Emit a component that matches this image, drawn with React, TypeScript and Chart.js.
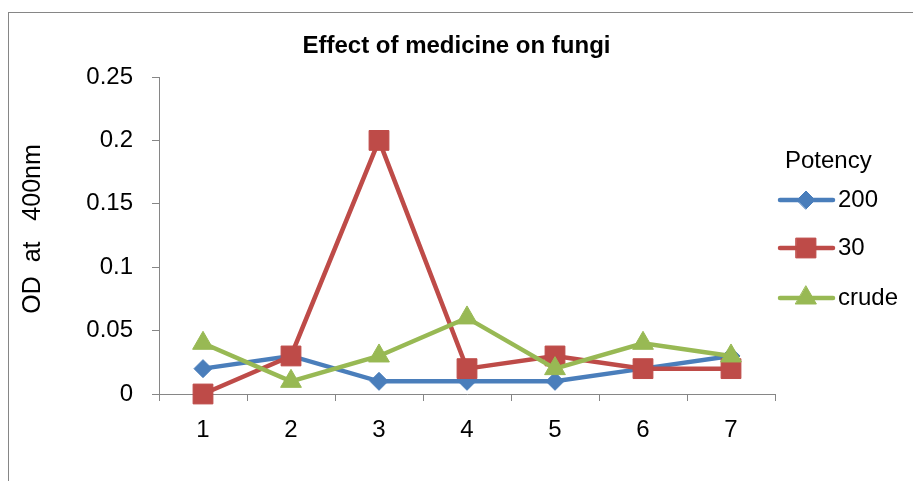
import React, { useEffect, useRef } from 'react';
import { Chart, registerables } from 'chart.js';
import { drawPoint } from 'chart.js/helpers';

Chart.register(...registerables);

const categories = ['1', '2', '3', '4', '5', '6', '7'];
const series200 = [0.02, 0.03, 0.01, 0.01, 0.01, 0.02, 0.03];
const series30 = [0, 0.03, 0.2, 0.02, 0.03, 0.02, 0.02];
const seriesCrude = [0.04, 0.01, 0.03, 0.06, 0.02, 0.04, 0.03];
const seriesNames = ['200', '30', 'crude'];
const yMin = 0;
const yMax = 0.25;
const yStep = 0.05;
const chartTitle = 'Effect of medicine on fungi';
const yAxisTitle = 'OD  at   400nm';
const legendTitle = 'Potency';

const FONT = "'Liberation Sans', Arial, sans-serif";
const BLUE = '#4A7EBB';
const RED = '#BE4B48';
const GREEN = '#98B954';
const AXIS = '#868686';

const overlayPlugin = {
  id: 'overlayText',
  afterDraw(chart: any) {
    const ctx = chart.ctx;
    const right = chart.chartArea.right;
    ctx.save();
    // chart title centred on the whole chart
    ctx.fillStyle = '#000';
    ctx.font = `bold 24px ${FONT}`;
    ctx.textBaseline = 'middle';
    ctx.textAlign = 'center';
    ctx.fillText(chartTitle, chart.width / 2, 46);

    // y-axis title
    ctx.save();
    ctx.translate(33, 229);
    ctx.rotate(-Math.PI / 2);
    ctx.font = `25px ${FONT}`;
    ctx.fillText(yAxisTitle, 0, 0);
    ctx.restore();

    // legend
    ctx.font = `24px ${FONT}`;
    ctx.textAlign = 'left';
    ctx.fillText(legendTitle, right + 10, 161);
    const rowYs = [200, 248, 298];
    chart.data.datasets.forEach((ds: any, i: number) => {
      const y = rowYs[i];
      ctx.strokeStyle = ds.borderColor;
      ctx.lineWidth = ds.borderWidth;
      ctx.lineCap = 'round';
      ctx.beginPath();
      ctx.moveTo(right + 5, y);
      ctx.lineTo(right + 58, y);
      ctx.stroke();
      ctx.fillStyle = ds.pointBackgroundColor;
      ctx.strokeStyle = ds.pointBorderColor;
      ctx.lineWidth = 1;
      drawPoint(ctx, { pointStyle: ds.pointStyle, radius: ds.pointRadius, rotation: 0, borderWidth: 1 }, right + 31, y);
      ctx.fillStyle = '#000';
      ctx.font = `24px ${FONT}`;
      ctx.fillText(ds.label, right + 63, y);
    });
    ctx.restore();
  },
};

function App() {
  const ref = useRef<HTMLCanvasElement | null>(null);
  useEffect(() => {
    if (!ref.current) return;
    const mk = (label: string, data: number[], color: string, style: string, radius: number, order: number) => ({
      label,
      data,
      borderColor: color,
      backgroundColor: color,
      pointBackgroundColor: color,
      pointBorderColor: color,
      pointBorderWidth: 1,
      borderWidth: 4.5,
      pointStyle: style,
      pointRadius: radius,
      pointHoverRadius: radius,
      tension: 0,
      clip: false,
      order,
    });
    const chart = new Chart(ref.current, {
      type: 'line',
      data: {
        labels: categories,
        datasets: [
          mk(seriesNames[0], series200, BLUE, 'rectRot', 9, 2),
          mk(seriesNames[1], series30, RED, 'rect', 14, 1),
          mk(seriesNames[2], seriesCrude, GREEN, 'triangle', 12, 0),
        ],
      },
      options: {
        animation: false,
        responsive: false,
        events: [],
        layout: { padding: { left: 0, right: 138, top: 77, bottom: 0 } },
        plugins: {
          legend: { display: false },
          tooltip: { enabled: false },
          title: { display: false },
        },
        scales: {
          x: {
            type: 'category',
            offset: true,
            afterFit: (s: any) => { s.height = 87; },
            grid: { display: true, drawOnChartArea: false, drawTicks: true, tickLength: 7, color: AXIS, offset: true },
            border: { display: true, color: AXIS, width: 1 },
            ticks: { color: '#000', font: { family: FONT, size: 24 }, padding: 15, maxRotation: 0 },
          },
          y: {
            min: yMin,
            max: yMax,
            afterFit: (s: any) => { s.width = 159; },
            grid: { display: true, drawOnChartArea: false, drawTicks: true, tickLength: 7, color: AXIS },
            border: { display: true, color: AXIS, width: 1 },
            ticks: {
              stepSize: yStep,
              color: '#000',
              font: { family: FONT, size: 24 },
              padding: 19,
              callback: (v: any) => String(parseFloat(Number(v).toFixed(2))),
            },
            title: { display: false },
          },
        },
      },
      plugins: [overlayPlugin],
    } as any);
    return () => chart.destroy();
  }, []);

  return (
    <div style={{ position: 'fixed', left: 0, top: 0, width: 913, height: 481, overflow: 'hidden', background: '#fff' }}>
      <div style={{ position: 'absolute', left: 8, top: 12, width: 1200, height: 1200, border: `1px solid ${AXIS}` }} />
      <canvas ref={ref} width={913} height={481} style={{ position: 'absolute', left: 0, top: 0, width: 913, height: 481 }} />
    </div>
  );
}

export default App;
